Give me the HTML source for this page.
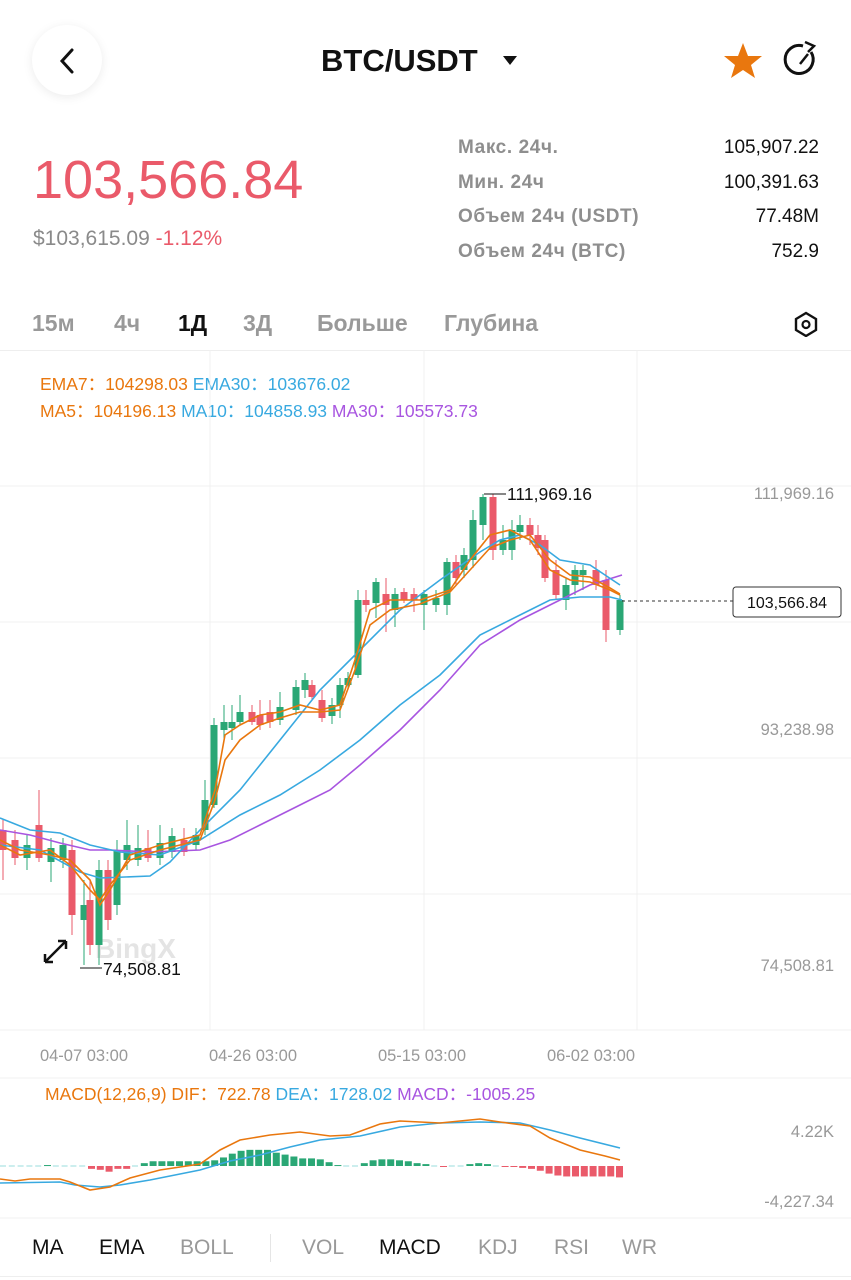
<!DOCTYPE html>
<html><head><meta charset="utf-8"><style>
body{margin:0;width:851px;height:1280px;background:#fff;font-family:"Liberation Sans",sans-serif;overflow:hidden;position:relative}
.a{position:absolute;white-space:nowrap}
.g{color:#8a8a8a}
</style></head><body>
<div class="a" style="left:32px;top:25px;width:70px;height:70px;border-radius:50%;background:#fff;box-shadow:0 2px 10px rgba(0,0,0,0.08)"></div>
<svg class="a" style="left:0;top:0" width="851" height="120">
<path d="M72 50 L62 61 L72 72" fill="none" stroke="#111" stroke-width="3" stroke-linecap="round"/>
<path d="M503 56 L517 56 L510 65 Z" fill="#111"/>
<path d="M743 43 L748 56 L762 56 L751 65 L755 78 L743 70 L731 78 L735 65 L724 56 L738 56 Z" fill="#e9770e"/>
<path d="M811 52 A14 14 0 1 1 803 46" fill="none" stroke="#111" stroke-width="3"/>
<path d="M805 42 L814 46 L808 52" fill="none" stroke="#111" stroke-width="2.5"/>
<path d="M800 64 L808 54" stroke="#111" stroke-width="2.5"/>
</svg>
<div class="a" style="left:321px;top:43px;font-size:31px;font-weight:bold;color:#111">BTC/USDT</div>
<div class="a" style="left:33px;top:149px;font-size:54px;color:#ea5a6a">103,566.84</div>
<div class="a" style="left:33px;top:227px;font-size:21px"><span class="g">$103,615.09</span> <span style="color:#ea5a6a">-1.12%</span></div>
<div class="a g" style="left:458px;top:131px;font-size:19px;line-height:34.5px;font-weight:bold;color:#8e8e8e;letter-spacing:0.6px">Макс. 24ч.<br>Мин. 24ч<br>Объем 24ч (USDT)<br>Объем 24ч (BTC)</div>
<div class="a" style="right:32px;top:131px;font-size:19px;line-height:34.5px;text-align:right;color:#111">105,907.22<br>100,391.63<br>77.48M<br>752.9</div>
<div style="font-size:23px;color:#999;font-weight:bold">
<div class="a" style="left:32px;top:310px">15м</div>
<div class="a" style="left:114px;top:310px">4ч</div>
<div class="a" style="left:178px;top:310px;color:#111">1Д</div>
<div class="a" style="left:243px;top:310px">3Д</div>
<div class="a" style="left:317px;top:310px">Больше</div>
<div class="a" style="left:444px;top:310px">Глубина</div>
</div>
<svg class="a" style="left:793px;top:311px" width="26" height="26"><path d="M13 2 L23 8 L23 19 L13 25 L3 19 L3 8 Z" fill="none" stroke="#111" stroke-width="2.4"/><circle cx="13" cy="13.5" r="3.5" fill="none" stroke="#111" stroke-width="2.2"/></svg>
<div class="a" style="left:0;top:350px;width:851px;height:1px;background:#eee"></div>
<div class="a" style="left:40px;top:371px;font-size:17.5px;line-height:27px"><span style="color:#e9770e">EMA7：104298.03</span> <span style="color:#38a9e0">EMA30：103676.02</span><br><span style="color:#e9770e">MA5：104196.13</span> <span style="color:#38a9e0">MA10：104858.93</span> <span style="color:#a855e0">MA30：105573.73</span></div>
<svg class="a" id="ch" style="left:0;top:0" width="851" height="1280">
<g stroke="#f0f0f0" stroke-width="1">
<line x1="0" y1="486" x2="851" y2="486"/><line x1="0" y1="622" x2="851" y2="622"/><line x1="0" y1="758" x2="851" y2="758"/><line x1="0" y1="894" x2="851" y2="894"/><line x1="0" y1="1030" x2="851" y2="1030"/>
<line x1="210" y1="350" x2="210" y2="1030"/><line x1="424" y1="350" x2="424" y2="1030"/><line x1="637" y1="350" x2="637" y2="1030"/>
<line x1="0" y1="1078" x2="851" y2="1078"/><line x1="0" y1="1218" x2="851" y2="1218"/>
</g>
<text x="95" y="958" font-size="28" font-weight="bold" fill="#e4e4e4" font-family="Liberation Sans">BingX</text>
<g id="cd"></g>
<g fill="none" stroke-width="1.6">
<polyline stroke="#a855e0" points="0,830 30,835 60,843 90,850 110,850 150,852 200,850 230,840 260,825 300,805 330,790 360,765 400,730 440,690 480,645 520,620 560,600 590,585 622,575"/>
<polyline stroke="#38a9e0" points="0,818 30,830 60,833 90,845 120,852 160,855 200,840 240,815 280,795 320,770 360,740 400,705 440,675 480,635 520,615 550,600 580,597 610,597 622,600"/>
<polyline stroke="#38a9e0" points="0,845 40,850 80,872 100,878 150,876 170,862 200,830 240,790 280,740 320,690 360,650 400,610 440,580 480,552 500,540 520,535 540,545 560,560 590,565 620,585"/>
<polyline stroke="#e9770e" points="0,840 20,850 50,855 70,860 90,880 100,905 110,890 130,855 160,845 200,835 215,790 225,735 240,725 260,715 280,712 300,705 320,710 340,705 355,660 370,610 390,600 420,600 450,590 470,560 490,535 510,530 530,540 550,570 570,580 590,582 610,590 620,595"/>
<polyline stroke="#e9770e" points="0,845 20,855 50,850 70,865 90,890 100,900 110,885 130,860 160,850 200,840 215,800 225,760 240,740 260,725 280,718 300,712 320,712 340,710 355,670 370,625 390,610 420,604 450,592 470,570 490,548 510,540 530,535 550,560 570,575 590,577 610,588 620,594"/>
</g>
<line x1="622" y1="601" x2="733" y2="601" stroke="#333" stroke-dasharray="3,3"/>
<rect x="733" y="587" width="108" height="30" rx="3" fill="#fff" stroke="#333"/>
<text x="787" y="608" font-size="16" text-anchor="middle" fill="#111" font-family="Liberation Sans">103,566.84</text>
<line x1="484" y1="494" x2="506" y2="494" stroke="#111"/><text x="507" y="500" font-size="17.5" fill="#111" font-family="Liberation Sans">111,969.16</text>
<line x1="80" y1="968" x2="102" y2="968" stroke="#111"/><text x="103" y="975" font-size="17.5" fill="#111" font-family="Liberation Sans">74,508.81</text>
<path d="M45 962 L66 941 M45 962 L45 954 M45 962 L53 962 M66 941 L58 941 M66 941 L66 949" stroke="#111" stroke-width="2.5" fill="none"/>
<g font-size="16.5" fill="#999" font-family="Liberation Sans" text-anchor="end">
<text x="834" y="499">111,969.16</text><text x="834" y="735">93,238.98</text><text x="834" y="971">74,508.81</text>
<text x="834" y="1137">4.22K</text><text x="834" y="1207">-4,227.34</text></g>
<g font-size="16.5" fill="#999" font-family="Liberation Sans" text-anchor="middle">
<text x="84" y="1061">04-07 03:00</text><text x="253" y="1061">04-26 03:00</text><text x="422" y="1061">05-15 03:00</text><text x="591" y="1061">06-02 03:00</text></g>
<text x="45" y="1100" font-size="17.5" font-family="Liberation Sans"><tspan fill="#e9770e">MACD(12,26,9)  DIF：722.78</tspan><tspan fill="#38a9e0">  DEA：1728.02</tspan><tspan fill="#a855e0">  MACD：-1005.25</tspan></text>
<g id="mh"></g>
<g fill="none" stroke-width="1.6">
<polyline stroke="#38a9e0" points="0,1183 60,1182 75,1185 100,1187 120,1185 150,1180 200,1170 230,1161 260,1155 290,1147 320,1140 360,1136 400,1127 440,1123 480,1122 520,1123 550,1130 580,1138 620,1148"/>
<polyline stroke="#e9770e" points="0,1179 15,1181 30,1179 60,1179 70,1182 90,1190 110,1187 130,1178 160,1170 200,1164 220,1150 240,1140 270,1135 300,1132 330,1136 350,1135 380,1124 400,1121 440,1123 480,1119 500,1122 530,1126 550,1138 580,1150 605,1156 620,1160"/>
</g>
</svg>
<div class="a" style="left:0;top:1276px;width:851px;height:1px;background:#eee"></div>
<div class="a" style="left:270px;top:1234px;width:1px;height:28px;background:#e5e5e5"></div>
<div style="font-size:21px;color:#999">
<div class="a" style="left:32px;top:1236px;color:#111">MA</div>
<div class="a" style="left:99px;top:1236px;color:#111">EMA</div>
<div class="a" style="left:180px;top:1236px">BOLL</div>
<div class="a" style="left:302px;top:1236px">VOL</div>
<div class="a" style="left:379px;top:1236px;color:#111">MACD</div>
<div class="a" style="left:478px;top:1236px">KDJ</div>
<div class="a" style="left:554px;top:1236px">RSI</div>
<div class="a" style="left:622px;top:1236px">WR</div>
</div>
<script>
var G="#2aa775",R="#ea5a6a";
var c=[[3,830,850,0,820,880],[15,840,858,0,830,865],[27,845,858,1,835,870],[39,825,858,0,790,862],[51,848,862,1,838,882],[63,845,860,1,838,868],[72,850,915,0,840,935],[84,905,920,1,880,965],[90,900,945,0,880,955],[99,870,945,1,860,965],[108,870,920,0,860,930],[117,850,905,1,840,915],[127,845,860,1,820,870],[138,848,860,1,825,866],[148,848,858,0,830,862],[160,843,858,1,825,865],[172,836,852,1,828,858],[184,840,852,0,828,856],[196,835,845,1,828,850],[205,800,830,1,780,835],[214,725,805,1,718,808],[224,722,730,1,705,740],[232,722,728,1,705,740],[240,712,722,1,695,725],[252,712,722,0,705,725],[260,715,725,0,700,730],[270,712,722,0,700,728],[280,707,720,1,692,725],[296,687,710,1,680,715],[305,680,690,1,673,698],[312,685,697,0,680,700],[322,700,718,0,690,722],[332,705,716,1,698,724],[340,685,705,1,678,718],[348,678,685,1,672,690],[358,600,675,1,590,678],[366,600,605,0,590,612],[376,582,603,1,578,618],[386,594,605,0,578,632],[395,594,610,1,588,627],[404,592,600,0,588,603],[414,594,600,0,588,612],[424,594,605,1,590,630],[436,598,605,1,590,612],[447,562,605,1,558,615],[456,562,578,0,555,585],[464,555,570,1,548,578],[473,520,560,1,510,568],[483,497,525,1,494,540],[493,497,550,0,494,560],[503,540,550,1,525,555],[512,530,550,1,520,560],[520,525,532,1,515,540],[530,525,535,0,518,545],[538,535,548,0,525,555],[545,540,578,0,535,582],[556,570,595,0,560,600],[566,585,600,1,578,610],[575,570,585,1,565,595],[583,570,575,1,565,590],[596,570,585,0,560,590],[606,580,630,0,570,642],[620,600,630,1,595,635]];
var s="";
c.forEach(function(d){var col=d[3]?G:R;s+='<line x1="'+d[0]+'" x2="'+d[0]+'" y1="'+d[4]+'" y2="'+d[5]+'" stroke="'+col+'"/><rect x="'+(d[0]-3.5)+'" y="'+d[1]+'" width="7" height="'+Math.max(2,d[2]-d[1])+'" fill="'+col+'"/>';});
document.getElementById("cd").innerHTML=s;
var h=[0,0,0,0,0,1,0,0,0,0,-3,-4,-6,-3,-3,0,3,5,5,5,5,5,5,5,6,9,13,16,17,17,17,14,12,10,8,8,7,4,1,0,0,3,6,7,7,6,5,3,2,0,-1,0,0,2,3,2,0,-1,-1,-2,-3,-5,-8,-10,-11,-11,-11,-11,-11,-11,-12];
var m="";h.forEach(function(v,i){var x=i*8.8;if(v==0){m+='<rect x="'+x+'" y="1165.5" width="6" height="1" fill="#9dd"/>';return;}
var y=v>0?1166-v*0.95:1166;m+='<rect x="'+x+'" y="'+y+'" width="7" height="'+Math.max(1,Math.abs(v*0.95))+'" fill="'+(v>0?G:R)+'"/>';});
document.getElementById("mh").innerHTML=m;
</script>
</body></html>
